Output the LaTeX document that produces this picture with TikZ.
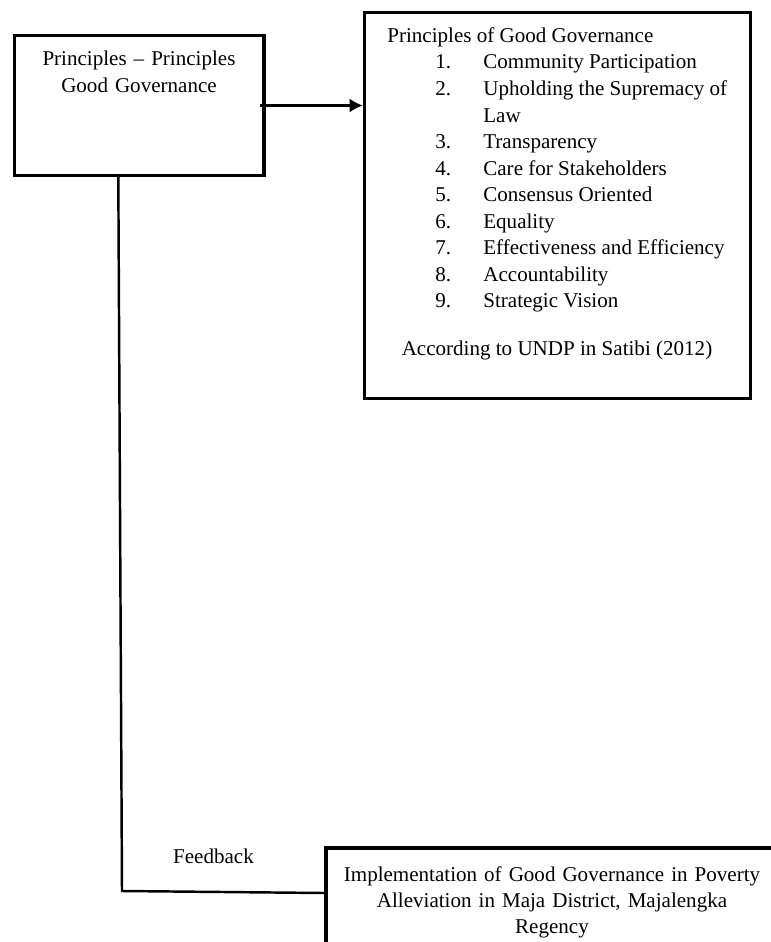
\documentclass[tikz,border=0pt]{standalone}
\usepackage{fontspec}
\setmainfont{Liberation Serif}
\usetikzlibrary{arrows.meta}
\newcommand{\px}{0.57pt}
\tikzset{
  box/.style={draw, line width=1.9pt, inner sep=0pt},
  link/.style={line width=1.4pt},
  txt/.style={inner sep=0pt, font=\fontsize{12}{15.1}\selectfont},
}
\begin{document}
\begin{tikzpicture}[x=0.57pt, y=-0.57pt]
    \useasboundingbox (0,0) rectangle (771,942);

    % Boxes
    \node[box, minimum width=249.5*\px, minimum height=140*\px] (principles) at (139.3,105.5) {};
    \node[box, minimum width=386*\px, minimum height=386*\px] (undp) at (557.5,205.5) {};
    \node[box, minimum width=452*\px, minimum height=112*\px] (impl) at (552,904) {};

    % Left box text
    \node[txt, text width=240*\px, align=center, anchor=base] (principlestxt) at (139,66)
        {Principles -- Principles\\Good Governance};

    % List of principles
    \node[txt, anchor=base west] (undptitle) at (387,43) {Principles of Good Governance};
    \foreach \n/\y/\lbl in {1/69/Community Participation, 2/96/Upholding the Supremacy of,
        3/148/Transparency, 4/175/Care for Stakeholders, 5/201/Consensus Oriented,
        6/228/Equality, 7/254/Effectiveness and Efficiency, 8/281/Accountability,
        9/307/Strategic Vision} {
        \node[txt, anchor=base west] (num\n) at (435,\y) {\n.};
        \node[txt, anchor=base west] (item\n) at (483,\y) {\lbl};
    }
    \node[txt, anchor=base west] (item2b) at (483,122) {Law};
    \node[txt, anchor=base] (undpsrc) at (557,355) {According to UNDP in Satibi (2012)};

    % Bottom box text
    \node[txt, text width=440*\px, align=center, anchor=base] (impltxt) at (552,881)
        {Implementation of Good Governance in Poverty\\Alleviation in Maja District, Majalengka\\Regency};

    % Arrow to the list
    \draw[link, -{Latex[length=7.5pt, width=8pt]}] ([xshift=-6*\px]principles.east) -- (undp.west |- principles.east);

    % Feedback line
    \coordinate (fbcorner) at (122,891);
    \draw[link] ([xshift=-21*\px]principles.south) -- (fbcorner) -- ([yshift=-2*\px]fbcorner -| impl.west);
    \node[txt] (fblabel) at (213.5,856) {Feedback};
\end{tikzpicture}
\end{document}
